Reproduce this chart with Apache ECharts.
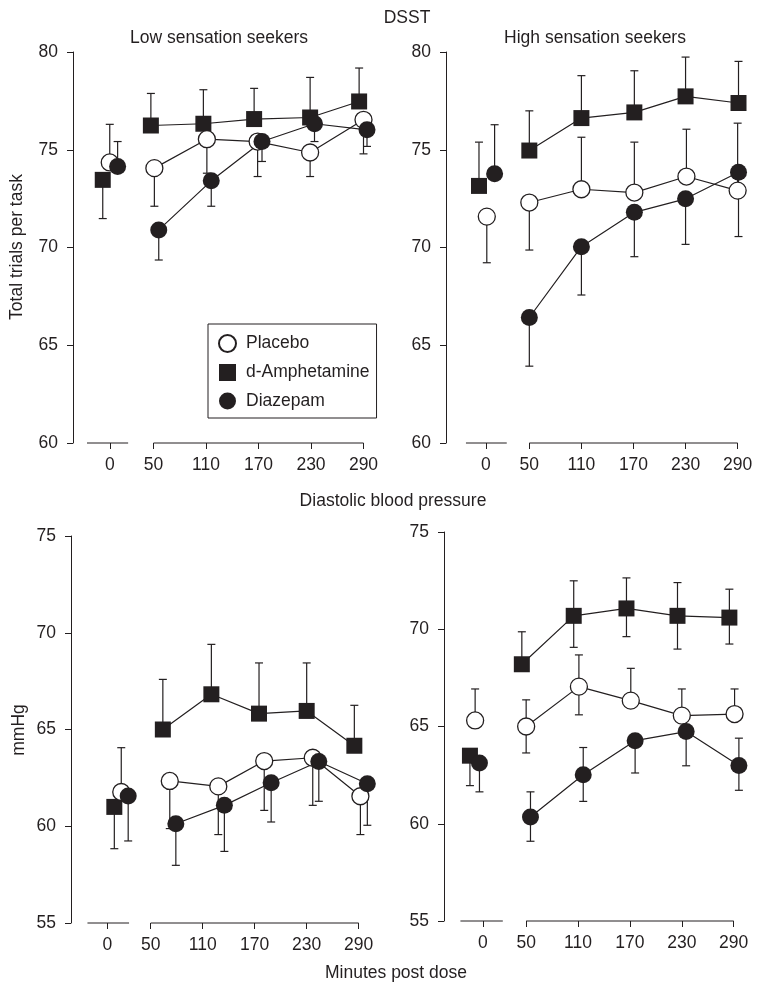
<!DOCTYPE html>
<html>
<head>
<meta charset="utf-8">
<script src="https://cdn.jsdelivr.net/npm/echarts@6/dist/echarts.min.js"></script>
<style>html,body{margin:0;padding:0;background:#fff}#c{width:764px;height:994px}</style>
</head>
<body>
<div id="c"></div>
<script>
// ---------- data ----------
const timeTicks = [0, 50, 110, 170, 230, 290];
const drugNames = ['Placebo', 'd-Amphetamine', 'Diazepam'];

// Panel 1: DSST, low sensation seekers (x = minutes incl. small dodge)
const lowDsstPlaceboX = [0, 51, 111, 169, 229, 290];
const lowDsstPlaceboY = [74.35, 74.06, 75.54, 75.42, 74.86, 76.53];
const lowDsstPlaceboHi = [76.3, null, null, null, null, null];
const lowDsstPlaceboLo = [null, 72.11, 73.8, 73.63, 73.63, 74.79];
const lowDsstAmphX = [-8, 47, 107, 165, 229, 285];
const lowDsstAmphY = [73.46, 76.24, 76.33, 76.57, 76.65, 77.47];
const lowDsstAmphHi = [null, 77.88, 78.07, 78.14, 78.7, 79.18];
const lowDsstAmphLo = [71.48, null, null, null, null, null];
const lowDsstDiazX = [9, 56, 116, 174, 234, 294];
const lowDsstDiazY = [74.14, 70.9, 73.41, 75.42, 76.33, 76.02];
const lowDsstDiazHi = [75.42, null, null, null, null, null];
const lowDsstDiazLo = [null, 69.36, 72.11, 74.4, 75.42, 75.17];

// Panel 2: DSST, high sensation seekers
const highDsstPlaceboX = [1, 50, 110, 171, 231, 290];
const highDsstPlaceboY = [71.58, 72.3, 72.98, 72.81, 73.63, 72.91];
const highDsstPlaceboHi = [null, null, 75.64, 75.39, 76.05, 76.36];
const highDsstPlaceboLo = [69.22, 69.87, null, null, null, null];
const highDsstAmphX = [-8, 50, 110, 171, 230, 291];
const highDsstAmphY = [73.15, 74.96, 76.62, 76.91, 77.73, 77.39];
const highDsstAmphHi = [75.39, 76.99, 78.79, 79.04, 79.74, 79.52];
const highDsstAmphLo = [null, null, null, null, null, null];
const highDsstDiazX = [10, 50, 110, 171, 230, 291];
const highDsstDiazY = [73.77, 66.42, 70.04, 71.8, 72.49, 73.85];
const highDsstDiazHi = [76.28, null, null, null, null, null];
const highDsstDiazLo = [null, 63.93, 67.57, 69.53, 70.16, 70.56];

// Panel 3: diastolic BP, low sensation seekers
const lowDbpPlaceboX = [16, 72, 128, 181, 237, 292];
const lowDbpPlaceboY = [61.77, 62.34, 62.06, 63.37, 63.54, 61.55];
const lowDbpPlaceboHi = [64.06, null, null, null, null, null];
const lowDbpPlaceboLo = [null, 59.88, 59.57, 60.82, 61.08, 59.57];
const lowDbpAmphX = [8, 64, 120, 175, 230, 285];
const lowDbpAmphY = [61.0, 65.0, 66.82, 65.82, 65.96, 64.16];
const lowDbpAmphHi = [null, 67.59, 69.4, 68.44, 68.44, 66.25];
const lowDbpAmphLo = [58.84, null, null, null, null, null];
const lowDbpDiazX = [24, 79, 135, 189, 244, 300];
const lowDbpDiazY = [61.56, 60.13, 61.08, 62.25, 63.35, 62.2];
const lowDbpDiazHi = [null, null, null, null, null, null];
const lowDbpDiazLo = [59.24, 57.98, 58.7, 60.22, 61.29, 60.05];

// Panel 4: diastolic BP, high sensation seekers
const highDbpPlaceboX = [-9, 50, 111, 171, 230, 291];
const highDbpPlaceboY = [65.31, 65.0, 67.05, 66.33, 65.56, 65.64];
const highDbpPlaceboHi = [66.93, 66.37, 68.68, 67.99, 66.93, 66.93];
const highDbpPlaceboLo = [null, 63.64, 65.6, null, null, null];
const highDbpAmphX = [-15, 45, 105, 166, 225, 285];
const highDbpAmphY = [63.5, 68.2, 70.69, 71.07, 70.69, 70.6];
const highDbpAmphHi = [null, 69.87, 72.49, 72.64, 72.4, 72.06];
const highDbpAmphLo = [61.96, null, 69.07, 69.62, 68.98, 69.24];
const highDbpDiazX = [-4, 55, 116, 176, 235, 296];
const highDbpDiazY = [63.12, 60.35, 62.52, 64.27, 64.74, 63.0];
const highDbpDiazHi = [null, 61.64, 63.92, null, null, 64.4];
const highDbpDiazLo = [61.64, 59.1, 61.15, 62.61, 62.98, 61.72];

// broken x-axis pieces (minutes)
const baseSegLowDsst = [-26, 21];
const baseSegHighDsst = [-23, 24];
const baseSegLowDbp = [-23, 25];
const baseSegHighDbp = [-26, 23];
const mainSeg = [50, 290];

// ---------- styling / layout ----------
const INK = '#231f20';
const FONT = '"Liberation Sans", Arial, Helvetica, sans-serif';
const FS = 17.5;

const styles = {
  'Placebo': { symbol: 'circle', size: 17, item: { color: '#ffffff', borderColor: INK, borderWidth: 1.3 } },
  'd-Amphetamine': { symbol: 'rect', size: 16, item: { color: INK, borderColor: INK, borderWidth: 0 } },
  'Diazepam': { symbol: 'circle', size: 17, item: { color: INK, borderColor: INK, borderWidth: 0 } }
};

const panels = [
  { grid: { left: 73, top: 52, width: 308, height: 391 }, xMin: -42, xMax: 310, yMin: 60, yMax: 80, seg: baseSegLowDsst,
    groups: [
      { name: 'd-Amphetamine', x: lowDsstAmphX, y: lowDsstAmphY, hi: lowDsstAmphHi, lo: lowDsstAmphLo },
      { name: 'Placebo', x: lowDsstPlaceboX, y: lowDsstPlaceboY, hi: lowDsstPlaceboHi, lo: lowDsstPlaceboLo },
      { name: 'Diazepam', x: lowDsstDiazX, y: lowDsstDiazY, hi: lowDsstDiazHi, lo: lowDsstDiazLo } ] },
  { grid: { left: 446, top: 52, width: 309, height: 391 }, xMin: -46, xMax: 310, yMin: 60, yMax: 80, seg: baseSegHighDsst,
    groups: [
      { name: 'd-Amphetamine', x: highDsstAmphX, y: highDsstAmphY, hi: highDsstAmphHi, lo: highDsstAmphLo },
      { name: 'Placebo', x: highDsstPlaceboX, y: highDsstPlaceboY, hi: highDsstPlaceboHi, lo: highDsstPlaceboLo },
      { name: 'Diazepam', x: highDsstDiazX, y: highDsstDiazY, hi: highDsstDiazHi, lo: highDsstDiazLo } ] },
  { grid: { left: 71, top: 536, width: 305, height: 387 }, xMin: -42, xMax: 310, yMin: 55, yMax: 75, seg: baseSegLowDbp,
    groups: [
      { name: 'd-Amphetamine', x: lowDbpAmphX, y: lowDbpAmphY, hi: lowDbpAmphHi, lo: lowDbpAmphLo },
      { name: 'Placebo', x: lowDbpPlaceboX, y: lowDbpPlaceboY, hi: lowDbpPlaceboHi, lo: lowDbpPlaceboLo },
      { name: 'Diazepam', x: lowDbpDiazX, y: lowDbpDiazY, hi: lowDbpDiazHi, lo: lowDbpDiazLo } ] },
  { grid: { left: 444, top: 532, width: 307, height: 389 }, xMin: -45, xMax: 310, yMin: 55, yMax: 75, seg: baseSegHighDbp,
    groups: [
      { name: 'd-Amphetamine', x: highDbpAmphX, y: highDbpAmphY, hi: highDbpAmphHi, lo: highDbpAmphLo },
      { name: 'Placebo', x: highDbpPlaceboX, y: highDbpPlaceboY, hi: highDbpPlaceboHi, lo: highDbpPlaceboLo },
      { name: 'Diazepam', x: highDbpDiazX, y: highDbpDiazY, hi: highDbpDiazHi, lo: highDbpDiazLo } ] }
];

const grids = [], xAxes = [], yAxes = [], scatterSeries = [], otherSeries = [];

panels.forEach((p, idx) => {
  grids.push(Object.assign({ containLabel: false }, p.grid));
  xAxes.push({
    type: 'value', gridIndex: idx, min: p.xMin, max: p.xMax,
    axisLine: { show: false, onZero: false },
    axisTick: { show: true, customValues: timeTicks, length: 6, inside: false, lineStyle: { color: INK, width: 1 } },
    axisLabel: { customValues: timeTicks, margin: 13, color: INK, fontSize: FS, fontFamily: FONT },
    splitLine: { show: false }
  });
  yAxes.push({
    type: 'value', gridIndex: idx, min: p.yMin, max: p.yMax, interval: 5,
    axisLine: { show: true, onZero: false, lineStyle: { color: INK, width: 1 } },
    axisTick: { show: true, length: 6, inside: false, lineStyle: { color: INK, width: 1 } },
    axisLabel: { margin: 15, color: INK, fontSize: FS, fontFamily: FONT },
    splitLine: { show: false }
  });
  // broken x axis line
  [p.seg, mainSeg].forEach(s => {
    otherSeries.push({
      type: 'line', xAxisIndex: idx, yAxisIndex: idx, silent: true, clip: false,
      data: [[s[0], p.yMin], [s[1], p.yMin]], symbol: 'none',
      lineStyle: { color: INK, width: 1 }, z: 1
    });
  });
  p.groups.forEach(g => {
    const pts = g.x.map((x, i) => [x, g.y[i]]);
    // error bars
    otherSeries.push({
      type: 'custom', name: g.name, xAxisIndex: idx, yAxisIndex: idx, silent: true, clip: false, z: 2,
      data: pts,
      renderItem: function (params, api) {
        const i = params.dataIndex;
        const c = api.coord([api.value(0), api.value(1)]);
        const kids = [];
        [g.hi[i], g.lo[i]].forEach(v => {
          if (v === null || v === undefined) return;
          const e = api.coord([api.value(0), v]);
          kids.push({ type: 'line', shape: { x1: c[0], y1: c[1], x2: e[0], y2: e[1] }, style: { stroke: INK, lineWidth: 1.2 } });
          kids.push({ type: 'line', shape: { x1: e[0] - 4, y1: e[1], x2: e[0] + 4, y2: e[1] }, style: { stroke: INK, lineWidth: 1.2 } });
        });
        return { type: 'group', children: kids };
      }
    });
    // connecting line (post-dose points only)
    otherSeries.push({
      type: 'line', name: g.name, xAxisIndex: idx, yAxisIndex: idx, silent: true, z: 3,
      data: pts.slice(1), symbol: 'none',
      lineStyle: { color: INK, width: 1.2 }, itemStyle: { color: INK }
    });
    const st = styles[g.name];
    scatterSeries.push({
      type: 'scatter', name: g.name, xAxisIndex: idx, yAxisIndex: idx, z: 4,
      data: pts, symbol: st.symbol, symbolSize: st.size,
      itemStyle: Object.assign({ opacity: 1 }, st.item),
      emphasis: { disabled: true }
    });
  });
});

function txt(text, x, y, rot) {
  return {
    type: 'text', x: x, y: y, rotation: rot || 0, silent: true,
    style: { text: text, fill: INK, fontSize: FS, fontFamily: FONT, align: 'center', verticalAlign: 'middle' }
  };
}

const chart = echarts.init(document.getElementById('c'), null, { renderer: 'canvas' });
chart.setOption({
  animation: false,
  backgroundColor: '#ffffff',
  textStyle: { fontFamily: FONT },
  grid: grids,
  xAxis: xAxes,
  yAxis: yAxes,
  legend: {
    orient: 'vertical', left: 208, top: 324,
    padding: [10, 7, 8, 10], itemGap: 10.5, itemWidth: 17, itemHeight: 17,
    borderColor: INK, borderWidth: 1, backgroundColor: '#fff',
    selectedMode: false,
    textStyle: { fontSize: FS, fontFamily: FONT, color: INK, padding: [0, 0, 0, 5] },
    data: [
      { name: 'Placebo', icon: 'circle' },
      { name: 'd-Amphetamine', icon: 'rect' },
      { name: 'Diazepam', icon: 'circle' }
    ]
  },
  graphic: [
    txt('DSST', 407, 18),
    txt('Low sensation seekers', 219, 38),
    txt('High sensation seekers', 595, 38),
    txt('Diastolic blood pressure', 393, 501),
    txt('Minutes post dose', 396, 973),
    txt('Total trials per task', 17, 247, Math.PI / 2),
    txt('mmHg', 19, 730, Math.PI / 2)
  ],
  series: scatterSeries.concat(otherSeries)
});
</script>
</body>
</html>
